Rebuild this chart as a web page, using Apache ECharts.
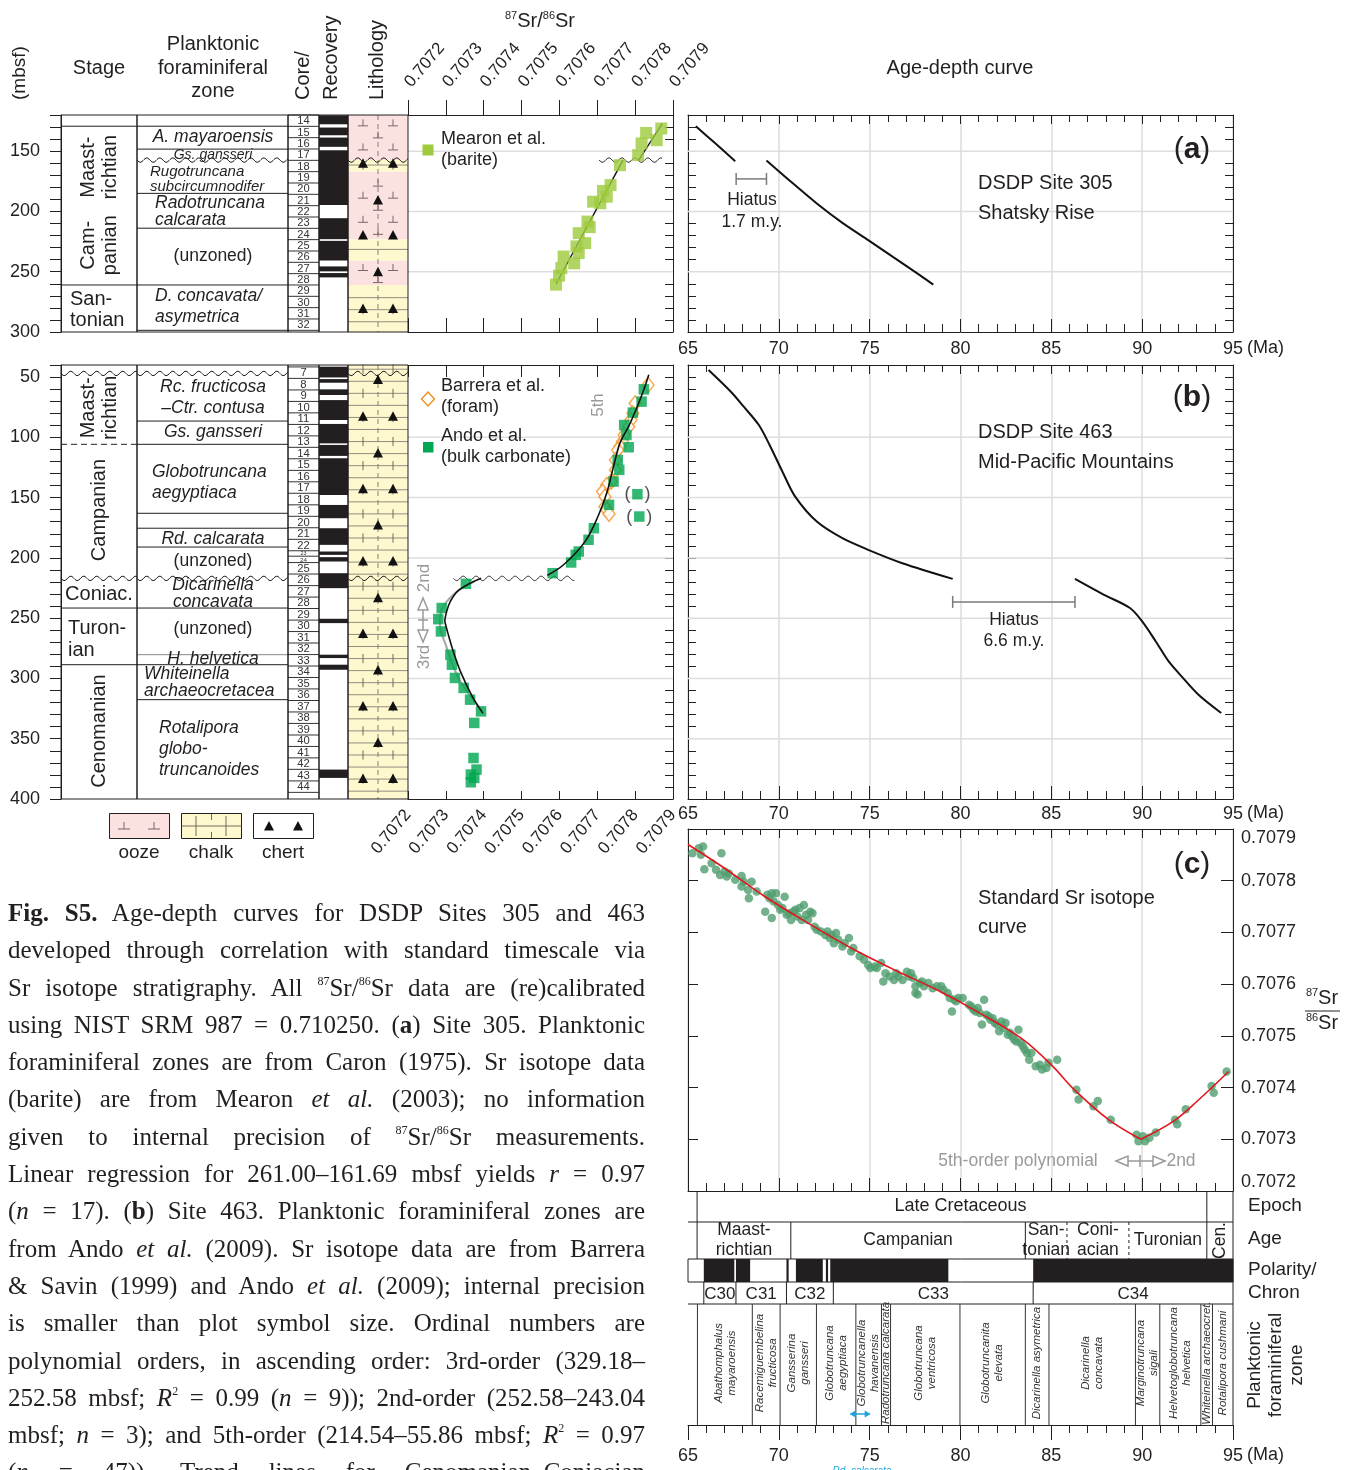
<!DOCTYPE html>
<html>
<head>
<meta charset="utf-8">
<title>Fig. S5 – Age-depth curves for DSDP Sites 305 and 463</title>
<script src="https://cdn.jsdelivr.net/npm/echarts@6/dist/echarts.min.js"></script>
<style>
html,body{margin:0;padding:0;background:#ffffff;width:1351px;height:1470px;overflow:hidden;}
#chart{position:absolute;left:0;top:0;width:1351px;height:1470px;}
#cap{position:absolute;left:8px;top:894px;width:637px;font-family:"Liberation Serif","DejaVu Serif","Times New Roman",serif;font-size:25px;line-height:37.3px;color:#231f20;}
#cap .l{display:block;text-align:justify;text-align-last:justify;height:37.3px;}
#cap sup{font-size:12px;line-height:0;vertical-align:11px;}
</style>
</head>
<body>
<div id="chart"></div>
<div id="cap">
<div class="l"><b>Fig. S5.</b> Age-depth curves for DSDP Sites 305 and 463</div>
<div class="l">developed through correlation with standard timescale via</div>
<div class="l">Sr isotope stratigraphy. All <sup>87</sup>Sr/<sup>86</sup>Sr data are (re)calibrated</div>
<div class="l">using NIST SRM 987 = 0.710250. (<b>a</b>) Site 305. Planktonic</div>
<div class="l">foraminiferal zones are from Caron (1975). Sr isotope data</div>
<div class="l">(barite) are from Mearon <i>et al.</i> (2003); no information</div>
<div class="l">given to internal precision of <sup>87</sup>Sr/<sup>86</sup>Sr measurements.</div>
<div class="l">Linear regression for 261.00–161.69 mbsf yields <i>r</i> = 0.97</div>
<div class="l">(<i>n</i> = 17). (<b>b</b>) Site 463. Planktonic foraminiferal zones are</div>
<div class="l">from Ando <i>et al.</i> (2009). Sr isotope data are from Barrera</div>
<div class="l">&amp; Savin (1999) and Ando <i>et al.</i> (2009); internal precision</div>
<div class="l">is smaller than plot symbol size. Ordinal numbers are</div>
<div class="l">polynomial orders, in ascending order: 3rd-order (329.18–</div>
<div class="l">252.58 mbsf; <i>R</i><sup>2</sup> = 0.99 (<i>n</i> = 9)); 2nd-order (252.58–243.04</div>
<div class="l">mbsf; <i>n</i> = 3); and 5th-order (214.54–55.86 mbsf; <i>R</i><sup>2</sup> = 0.97</div>
<div class="l">(<i>n</i> = 47)). Trend lines for Cenomanian–Coniacian</div>
</div>
<script>
// ======================= DATA =======================
// ---- (a) DSDP Site 305 ----
const aCoreNum = [14,15,16,17,18,19,20,21,22,23,24,25,26,27,28,29,30,31,32];
const aCoreTop = [120,129.4,138.8,148.2,157.6,167,176.4,185.8,195.2,204.6,214,223.4,232.8,242.2,251.6,261,270.4,279.8,289.2];
const aCoreBottom = 298.6;
const aRecTop = [120.2,130.4,138.7,149.2,205.6,224.4,245.6,251.1];
const aRecBot = [127.7,136.8,146.4,194.6,223.0,240.7,249.7,254.7];
const aStageNames = ['Maast-\nrichtian','Cam-\npanian','San-\ntonian'];
const aStageBounds = [129.3,261];
const aZoneNames = ['A. mayaroensis','Gs. gansseri','Rugotruncana\nsubcircumnodifer','Radotruncana\ncalcarata','(unzoned)','D. concavata/\nasymetrica'];
const aZoneBounds = [129.3,148.3,185,213.9,261,298.6];
const aHiatusDepth = 157.4;
const aLithType = ['ooze','chalk','ooze','chalk','ooze','chalk'];
const aLithTop = [120,157.4,167,223,241,261];
const aLithBot = [157.4,167,223,241,261,300];
const aChertDepth = [160,190.5,219.6,250,280.5];
const aChertCount = [2,1,2,1,2];
const aSr = [0.707591,0.707599,0.707605,0.707611,0.707639,0.707645,0.707651,0.707651,0.707668,0.707674,0.70768,0.707689,0.707708,0.707715,0.707725,0.707735,0.70776,0.707808,0.707817,0.707829,0.707857,0.707869];
const aSrDepth = [260.7,253.3,247,237.4,243,229,234.5,218,226.3,208.4,213,191.9,193.2,183,187.8,178.1,161.6,153.3,143.6,134.9,140.9,131.2];
const aFitLowSr = [0.707591,0.707768];
const aFitLowDepth = [260.2,157.4];
const aFitUpSr = [0.707808,0.707872];
const aFitUpDepth = [158,127];
const aAge1 = [65.43,66.5,67.6];
const aAgeDepth1 = [129.3,143.5,158.3];
const aAge2 = [69.32,70.67,72.09,73.5,74.92,76.34,77.76,78.5];
const aAgeDepth2 = [157.7,175.4,193.4,209.5,223.8,238.3,252.8,260.7];
const aHiatusAge = [67.65,69.32];
const aHiatusBarDepth = 173;

// ---- (b) DSDP Site 463 ----
const bCoreNum = [7,8,9,10,11,12,13,14,15,16,17,18,19,20,21,22,23,24,25,26,27,28,29,30,31,32,33,34,35,36,37,38,39,40,41,42,43,44];
const bCoreTop = [41.6,51.1,60.7,70.2,79.7,89.3,98.8,108.3,117.8,127.4,136.9,146.4,156,165.5,175,184.6,194.1,198.6,203.9,213.4,223,232.5,242,251.6,261.1,270.6,280.2,289.7,299.2,308.7,318.3,327.8,337.3,346.9,356.4,365.9,375.4,385];
const bCoreBottom = 394.5;
const bRecTop = [41.4,51.7,60.2,69.1,88.9,106.3,117.4,156.1,175.4,194.7,199.4,212.7,250.5,280.3,288.6,375.6];
const bRecBot = [50.3,54.7,64.9,85.6,105,115.4,147.8,167.1,189.2,197.5,203,225.1,254.1,283.1,292.8,382.5];
const bStageNames = ['Maast-\nrichtian','Campanian','Coniac.','Turon-\nian','Cenomanian'];
const bStageBounds = [105.8,217,241.6,288.6];
const bZoneNames = ['Rc. fructicosa\n–Ctr. contusa','Gs. gansseri','Globotruncana\naegyptiaca','Rd. calcarata','(unzoned)','Dicarinella\nconcavata','(unzoned)','H. helvetica','Whiteinella\narchaeocretacea','Rotalipora\nglobo-\ntruncanoides'];
const bZoneBounds = [86.5,105.8,163,175.4,191,217,241.6,280.3,288.6,317.6];
const bHiatusDepths = [47,217];
const bLithType = ['chalk'];
const bLithTop = [40];
const bLithBot = [400];
const bChertDepth = [52,82.5,113,142.7,172.8,202.6,233,262.8,292.9,322.8,353.2,383];
const bChertCount = [1,2,1,2,1,2,1,2,1,2,1,2];
const barreraSr = [0.707834,0.7078,0.707794,0.707789,0.707783,0.707771,0.707766,0.70776,0.707754,0.707748,0.707748,0.707737,0.707725,0.707714,0.70772,0.70772,0.707725,0.707731];
const barreraDepth = [56.6,71.8,80.1,85.6,91.2,98.1,103.6,107.7,110.5,118.8,127,136.7,139.5,145,149.2,157.5,160.2,163.5];
const andoSr = [0.707823,0.707817,0.707794,0.707771,0.707777,0.707783,0.707754,0.707758,0.707743,0.707731,0.707691,0.707677,0.707651,0.707643,0.707631,0.707582,0.707353,0.707289,0.70728,0.707287,0.707312,0.707316,0.707324,0.707347,0.707364,0.707393,0.707375,0.707373,0.707381,0.707366,0.707375,0.707366];
const andoDepth = [60.2,70.4,79.5,89.8,98.1,108.2,118.8,127,136.7,156,175.4,185,194.7,197.5,203.8,212.7,221.5,241.6,250.8,261,280.3,288.6,299.6,307.9,317.6,327.3,336.9,366,375.6,379.7,382.5,386.1];
const andoQuerySr = [0.707806,0.707811];
const andoQueryDepth = [147.2,165.7];
const fit5Sr = [0.707568,0.707611,0.707668,0.707702,0.707725,0.707743,0.70776,0.707783,0.707806,0.707823,0.707836];
const fit5Depth = [214.5,205.7,186.3,165.5,146.1,124,104.6,90.8,74.2,60.4,48];
const fit2Sr = [0.707393,0.707335,0.707312,0.707301,0.707297];
const fit2Depth = [216.8,226.5,236.1,245.8,252.6];
const fit3Sr = [0.707297,0.707305,0.707318,0.707341,0.70737,0.707398];
const fit3Depth = [252.6,262,276,296,315,329];
const altFitSr = [0.707375,0.707324,0.707289,0.707284,0.707301,0.70733,0.707364,0.707396];
const altFitDepth = [219.6,229.3,243,254,273.3,297.6,314.2,326.6];
const bAge1 = [66.13,67.36,68.07,68.9,69.49,70.2,70.9,72.09,73.5,74.92,76.8,79.57];
const bAgeDepth1 = [44.2,62.2,74.6,89.8,106.3,128.5,149.2,169.9,183.7,193.3,204.4,217.4];
const bAge2 = [86.3,87.9,89.33,90.0,90.75,91.46,92.17,93.1,94.35];
const bAgeDepth2 = [217.4,230.6,241.6,252.7,269.3,285.9,298.3,313.5,328.6];
const bHiatusAge = [79.57,86.3];
const bHiatusBarDepth = 236.5;

// ---- (c) Standard Sr isotope curve ----
const cAge = [65.24,65.59,65.83,65.71,65.9,66.3,66.54,66.77,66.84,67.01,67.13,67.24,67.6,67.95,67.95,68.07,68.31,68.35,68.5,68.78,69.25,69.37,69.49,69.61,69.61,69.72,69.84,69.96,70.08,70.2,70.32,70.43,70.55,70.67,70.79,70.91,71.02,71.14,71.26,71.38,71.5,71.61,71.73,71.85,71.97,72.09,72.32,72.56,72.68,72.8,72.91,73.03,73.15,73.27,73.5,73.62,73.86,73.98,74.1,74.45,74.69,74.92,75.04,75.28,75.39,75.63,75.75,75.87,76.1,76.34,76.46,76.58,76.81,77.05,77.17,77.28,77.4,77.52,77.64,77.52,77.76,77.88,77.99,78.23,78.47,78.7,78.94,79.06,79.29,79.41,79.53,79.65,79.76,79.88,80.12,80.47,80.59,80.71,80.83,80.95,81.06,81.18,81.3,81.42,81.54,81.65,81.77,81.89,82.01,82.13,82.25,82.36,82.48,82.6,82.72,82.84,82.95,83.07,83.19,83.31,83.43,83.54,83.66,83.78,83.9,84.14,84.37,84.49,84.73,84.84,85.32,86.38,86.5,87.32,87.56,88.27,89.69,89.8,90.04,90.16,90.4,90.75,91.81,91.93,92.4,93.82,93.94,94.65];
const cSr = [0.707853,0.707863,0.707866,0.70785,0.707822,0.707834,0.707821,0.707811,0.707853,0.707818,0.707808,0.707814,0.707802,0.707809,0.707789,0.707798,0.707782,0.707766,0.707798,0.707779,0.70774,0.707773,0.707766,0.707728,0.707776,0.70776,0.707776,0.707753,0.707744,0.707747,0.707769,0.707734,0.707737,0.707724,0.70774,0.707744,0.707731,0.707747,0.707724,0.707753,0.707734,0.707724,0.70774,0.707737,0.707711,0.707705,0.707702,0.707695,0.707702,0.707689,0.707695,0.707679,0.707699,0.707686,0.707673,0.707679,0.707689,0.707663,0.70767,0.707654,0.707647,0.707637,0.707631,0.707634,0.707631,0.707641,0.707605,0.707621,0.707615,0.707608,0.707621,0.707615,0.707608,0.707624,0.707615,0.707621,0.707612,0.707596,0.70758,0.707583,0.707602,0.707605,0.707596,0.707602,0.707592,0.707596,0.707596,0.707589,0.707583,0.707573,0.707547,0.70757,0.707567,0.707573,0.707573,0.70756,0.707557,0.707551,0.707547,0.707554,0.707544,0.707522,0.70757,0.707541,0.707538,0.707531,0.707534,0.707525,0.707522,0.707509,0.707528,0.707515,0.707525,0.707502,0.707506,0.707499,0.707493,0.707489,0.707512,0.707486,0.70748,0.707473,0.707467,0.707454,0.707467,0.707441,0.707444,0.707435,0.707438,0.707448,0.707454,0.707396,0.707377,0.707364,0.707374,0.707338,0.707309,0.707296,0.707306,0.707296,0.707303,0.707313,0.707338,0.707329,0.707358,0.707403,0.70739,0.707431];
const cCurve5Age = [65,66.89,69.25,71.61,73.98,76.34,78.7,81.06,83.43,85.08,86.26,88.15,89.92];
const cCurve5Sr = [0.70787,0.707827,0.707769,0.707718,0.70767,0.707628,0.707589,0.707544,0.707493,0.707441,0.707396,0.707338,0.7073];
const cCurve2Age = [89.92,91.69,93.1,94.76];
const cCurve2Sr = [0.7073,0.707334,0.707376,0.707431];

// ---- Timescale ----
const tsEpochNames = ['Late Cretaceous',''];
const tsEpochStart = [65.5,93.56];
const tsEpochEnd = [93.56,95];
const tsAgeNames = ['Maast-\nrichtian','Campanian','San-\ntonian','Coni-\nacian','Turonian','Cen.'];
const tsAgeStart = [65.5,70.66,83.57,85.86,89.27,93.56];
const tsAgeEnd = [70.66,83.57,85.86,89.27,93.56,95];
const tsNormalStart = [65.87,67.64,70.42,70.94,72.59,72.83,84.0];
const tsNormalEnd = [67.55,68.42,70.54,72.42,72.71,79.33,95];
const tsChronNames = ['C30','C31','C32','C33','C34'];
const tsChronStart = [65.87,67.64,70.42,73.0,84.0];
const tsChronEnd = [67.64,70.42,73.0,84.0,95];
const tsZoneNames = ['Abathomphalus\nmayaroensis','Racemiguembelina\nfructicosa','Gansserina\ngansseri','Globotruncana\naegyptiaca','Globotruncanella\nhavanensis','Radotruncana calcarata','Globotruncana\nventricosa','Globotruncanita\nelevata','Dicarinella asymetrica','Dicarinella\nconcavata','Marginotruncana\nsigali','Helvetoglobotruncana\nhelvetica','Whiteinella archaeocret.','Rotalipora cushmani'];
const tsZoneStart = [65.52,68.54,70.07,72.07,74.24,75.65,76.15,79.97,83.57,84.87,89.63,90.97,93.23,93.87];
const tsCalcarataRange = [73.95,75.0];

const aGridDepths = [150,200,250];
const bGridDepths = [100,150,200,250,300,350];

// ======================= STYLE / LAYOUT =======================
const FF = '"Liberation Sans", Arial, Helvetica, sans-serif';
const AX = '#231f20';
const PI2 = Math.PI/2;
const OOZE = '#fbe2e1', CHALK = '#fef8cf';
const GREEN_A = '#9dcb3c', GREEN_B = '#00a651', ORANGE = '#f39325', DOT_C = '#4f9d6e', RED = '#e3161b';
const COL = {st:[0,76], zn:[76,227], co:[227,258], re:[258,287], li:[287,347]};

function fnt(s,it,b){return (it?'italic ':'')+(b?'bold ':'')+s+'px '+FF;}
function mkText(x,y,text,o){
  o=o||{}; const al=o.align||'center', va=o.va||'middle';
  const st={text:String(text),font:fnt(o.size||18,o.it,o.bold),fill:o.fill||'#231f20',align:al,verticalAlign:va,textAlign:al,textVerticalAlign:va};
  if(o.lh){st.lineHeight=o.lh;}
  if(o.rich){st.rich=o.rich;}
  return {type:'text',x:x,y:y,rotation:o.rot||0,silent:true,z:100,style:st};
}
function wavyPts(a,b,amp,wl){const p=[];for(let x=a[0];x<=b[0]+0.01;x+=1){p.push([x,a[1]+amp*Math.sin((x-a[0])/wl*2*Math.PI)]);}return p;}

// ---- stratigraphic column renderer ----
function colSeries(xi,yi,S){
  return {type:'custom',xAxisIndex:xi,yAxisIndex:yi,silent:true,animation:false,clip:false,z:2,
    data:[[0,S.dTop]],
    renderItem:function(params,api){
      const P=(x,d)=>api.coord([x,d]);
      const ch=[];
      const Lp=(x1,y1,x2,y2,st)=>ch.push({type:'line',shape:{x1:x1,y1:y1,x2:x2,y2:y2},style:Object.assign({stroke:AX,lineWidth:1,fill:'none'},st||{})});
      const L=(xa,da,xb,db,st)=>{const a=P(xa,da),b=P(xb,db);Lp(a[0],a[1],b[0],b[1],st);};
      const R=(xa,da,xb,db,st)=>{const a=P(xa,da),b=P(xb,db);ch.push({type:'rect',shape:{x:Math.min(a[0],b[0]),y:Math.min(a[1],b[1]),width:Math.abs(b[0]-a[0]),height:Math.abs(b[1]-a[1])},style:st});};
      const ppm=Math.abs(P(0,S.dTop+10)[1]-P(0,S.dTop)[1])/10;
      const li=COL.li, lw=li[1]-li[0], q1=li[0]+lw*0.25, q3=li[0]+lw*0.75, xm=li[0]+lw*0.5;
      S.lithTop.forEach((t,i)=>R(li[0],t,li[1],S.lithBot[i],{fill:S.lithType[i]==='ooze'?OOZE:CHALK}));
      L(xm,S.dTop,xm,S.dBot,{stroke:'#6b6060',lineWidth:0.8,lineDash:[5,4]});
      S.lithTop.forEach((t,i)=>{
        const b=S.lithBot[i];
        const k0=Math.floor((t-S.rowOff)/S.rowStep);
        for(let k=k0;k<k0+100;k++){
          const d=S.rowOff+k*S.rowStep; if(d>=b) break;
          const even=((k%2)+2)%2===0;
          if(S.lithType[i]==='chalk'){
            if(d>t+0.8){
              L(li[0],d,li[1],d,{stroke:'#77726a',lineWidth:0.8});
              if(even){const h=S.rowStep*0.38; L(q1,d-h,q1,d+h,{stroke:'#5f5a52',lineWidth:0.9}); L(q3,d-h,q3,d+h,{stroke:'#5f5a52',lineWidth:0.9});}
            }
          } else {
            const dc=d+S.rowStep/2; if(dc<=t+2||dc>=b-2) continue;
            const xs=even?[q1,q3]:[xm];
            xs.forEach(x=>{const c=P(x,dc); const col='#7b6767';
              Lp(c[0],c[1]-3.5,c[0],c[1]+3,{stroke:col,lineWidth:1});
              Lp(c[0]-5,c[1]+3,c[0]+5,c[1]+3,{stroke:col,lineWidth:1});});
          }
        }
      });
      S.chertD.forEach((d,i)=>{const xs=S.chertN[i]===1?[xm]:[q1,q3];xs.forEach(x=>{const c=P(x,d);ch.push({type:'polygon',shape:{points:[[c[0]-5,c[1]+4.5],[c[0]+5,c[1]+4.5],[c[0],c[1]-5]]},style:{fill:'#111'}});});});
      S.recTop.forEach((t,i)=>R(COL.re[0],t,COL.re[1],S.recBot[i],{fill:'#231f20'}));
      S.coreTop.forEach((t,i)=>{
        const b=(i<S.coreTop.length-1)?S.coreTop[i+1]:S.coreBot;
        L(COL.co[0],t,COL.co[1],t,{stroke:'#333'});
        const hp=(b-t)*ppm; const c=P((COL.co[0]+COL.co[1])/2,(t+b)/2);
        ch.push(mkText(c[0],c[1]+0.5,S.coreNum[i],{size:Math.min(13.5,hp*0.98),fill:'#333'}));
      });
      L(COL.co[0],S.coreBot,COL.co[1],S.coreBot,{stroke:'#333'});
      S.stageLines.forEach(s=>L(COL.st[0],s[0],COL.st[1],s[0],s[1]?{lineDash:[6,4]}:{}));
      S.zoneLines.forEach(s=>L(COL.zn[0],s[0],COL.zn[1],s[0],s[1]?{stroke:s[1]}:{}));
      [COL.st,COL.zn,COL.co,COL.re,COL.li].forEach(c=>R(c[0],S.dTop,c[1],S.dBot,{fill:'none',stroke:AX,lineWidth:1}));
      S.wavy.forEach(d=>S.wavyCols.forEach(c=>{const a=P(c[0],d),b=P(c[1],d);ch.push({type:'polyline',shape:{points:wavyPts(a,b,2.2,13)},style:{stroke:AX,lineWidth:1,fill:'none'}});}));
      S.texts.forEach(t=>{const c=P(t[0],t[1]);ch.push(mkText(c[0],c[1],t[2],t[3]));});
      return {type:'group',children:ch};
    }};
}

const aSpec = {dTop:120,dBot:300,lithTop:aLithTop,lithBot:aLithBot,lithType:aLithType,rowStep:10,rowOff:1.5,
  chertD:aChertDepth,chertN:aChertCount,recTop:aRecTop,recBot:aRecBot,coreNum:aCoreNum,coreTop:aCoreTop,coreBot:aCoreBottom,
  stageLines:aStageBounds.map(d=>[d]),zoneLines:aZoneBounds.map(d=>[d]),
  wavy:[aHiatusDepth],wavyCols:[COL.zn,COL.li],
  texts:[
    [38,163.3,aStageNames[0],{rot:PI2,size:20,lh:22}],
    [38,228,aStageNames[1],{rot:PI2,size:20,lh:22}],
    [9,282,aStageNames[2],{size:20,lh:21,align:'left'}],
    [152,138.4,aZoneNames[0],{size:17.5,it:true}],
    [152,153.4,aZoneNames[1],{size:14,it:true}],
    [89,173.5,aZoneNames[2],{size:15,it:true,lh:14.5,align:'left'}],
    [94,200.3,aZoneNames[3],{size:17.5,it:true,lh:17,align:'left'}],
    [152,237,aZoneNames[4],{size:17.5}],
    [94,279,aZoneNames[5],{size:17.5,it:true,lh:21,align:'left'}]
  ]};
const bSpec = {dTop:40,dBot:400,lithTop:bLithTop,lithBot:bLithBot,lithType:bLithType,rowStep:10,rowOff:3.5,
  chertD:bChertDepth,chertN:bChertCount,recTop:bRecTop,recBot:bRecBot,coreNum:bCoreNum,coreTop:bCoreTop,coreBot:bCoreBottom,
  stageLines:[[bStageBounds[0],true],[bStageBounds[2]],[bStageBounds[3]]],
  zoneLines:bZoneBounds.filter(d=>bHiatusDepths.indexOf(d)<0).map(d=>d===280.3?[d,'#888']:[d]),
  wavy:bHiatusDepths,wavyCols:[COL.st,COL.zn,COL.li],
  texts:[
    [38,75.5,bStageNames[0],{rot:PI2,size:20,lh:22}],
    [38,160.3,bStageNames[1],{rot:PI2,size:20}],
    [38,230.5,bStageNames[2],{size:20}],
    [7,268,bStageNames[3],{size:20,lh:22,align:'left'}],
    [38,343.6,bStageNames[4],{rot:PI2,size:20}],
    [152,67.4,bZoneNames[0],{size:17.5,it:true,lh:21}],
    [152,95.6,bZoneNames[1],{size:17.5,it:true}],
    [91,137.9,bZoneNames[2],{size:17.5,it:true,lh:21,align:'left'}],
    [152,184.2,bZoneNames[3],{size:17.5,it:true}],
    [152,202.6,bZoneNames[4],{size:17.5}],
    [152,229.5,bZoneNames[5],{size:17.5,it:true,lh:16.5}],
    [152,259,bZoneNames[6],{size:17.5}],
    [152,283.9,bZoneNames[7],{size:17.5,it:true}],
    [83,303.8,bZoneNames[8],{size:17.5,it:true,lh:17,align:'left'}],
    [98,358.6,bZoneNames[9],{size:17.5,it:true,lh:21,align:'left'}]
  ]};

function decorSeries(xi,yi,xr,depths,wavy){
  return {type:'custom',xAxisIndex:xi,yAxisIndex:yi,silent:true,animation:false,clip:false,z:1,
    data:[[xr[0],depths[0]]],
    renderItem:function(params,api){
      const ch=[];
      depths.forEach(d=>{const a=api.coord([xr[0],d]),b=api.coord([xr[1],d]);ch.push({type:'line',shape:{x1:a[0],y1:a[1],x2:b[0],y2:b[1]},style:{stroke:'#dddddd',lineWidth:1.5,fill:'none'}});});
      if(wavy){const a=api.coord([wavy[0],wavy[2]]),b=api.coord([wavy[1],wavy[2]]);ch.push({type:'polyline',shape:{points:wavyPts(a,b,2.2,13)},style:{stroke:AX,lineWidth:1,fill:'none'}});}
      return {type:'group',children:ch};
    }};
}
function hiatusSeries(xi,yi,ages,d){
  return {type:'custom',xAxisIndex:xi,yAxisIndex:yi,silent:true,animation:false,clip:false,z:3,
    data:[[ages[0],d,ages[1]]],
    renderItem:function(params,api){
      const s=api.coord([api.value(0),api.value(1)]), e=api.coord([api.value(2),api.value(1)]);
      const st={stroke:'#7a7a7a',lineWidth:1.5,fill:'none'};
      return {type:'group',children:[
        {type:'line',shape:{x1:s[0],y1:s[1],x2:e[0],y2:e[1]},style:st},
        {type:'line',shape:{x1:s[0],y1:s[1]-6,x2:s[0],y2:s[1]+6},style:st},
        {type:'line',shape:{x1:e[0],y1:e[1]-6,x2:e[0],y2:e[1]+6},style:st}]};
    }};
}
function tsSeries(){
  return {type:'custom',xAxisIndex:12,yAxisIndex:10,silent:true,animation:false,clip:false,z:3,
    data:[[65,0]],
    renderItem:function(params,api){
      const P=(m,u)=>api.coord([m,u]); const ch=[];
      const L=(a,b,st)=>ch.push({type:'line',shape:{x1:a[0],y1:a[1],x2:b[0],y2:b[1]},style:Object.assign({stroke:AX,lineWidth:1,fill:'none'},st||{})});
      const R=(a,b,st)=>ch.push({type:'rect',shape:{x:a[0],y:a[1],width:b[0]-a[0],height:b[1]-a[1]},style:st});
      const EP=[0,31],AG=[31,68],PO=[68,91],CR=[91,113],ZN=[113,234];
      [EP[1],CR[1]].forEach(u=>L(P(65,u),P(95,u)));
      L(P(95,0),P(95,ZN[1]));
      tsEpochStart.forEach((s,i)=>{L(P(s,EP[0]),P(s,EP[1]));if(tsEpochNames[i]){const c=P((65+95)/2,(EP[0]+EP[1])/2);ch.push(mkText(c[0],c[1],tsEpochNames[i],{size:18}));}});
      tsAgeStart.forEach((s,i)=>{const dashed=(i===3||i===4);L(P(s,AG[0]),P(s,AG[1]),dashed?{lineDash:[3,3]}:{});
        const c=P((s+tsAgeEnd[i])/2,(AG[0]+AG[1])/2);
        ch.push(mkText(c[0],c[1],tsAgeNames[i],tsAgeNames[i]==='Cen.'?{rot:PI2,size:17.5}:{size:17.5,lh:20}));});
      R(P(65,PO[0]),P(95,PO[1]),{fill:'#fff',stroke:AX,lineWidth:1});
      tsNormalStart.forEach((s,i)=>R(P(s,PO[0]),P(tsNormalEnd[i],PO[1]),{fill:'#231f20'}));
      tsChronStart.forEach((s,i)=>{L(P(s,CR[0]),P(s,CR[1]));const c=P((s+tsChronEnd[i])/2,(CR[0]+CR[1])/2);ch.push(mkText(c[0],c[1]+1,tsChronNames[i],{size:17}));});
      tsZoneStart.forEach((s,i)=>{L(P(s,ZN[0]),P(s,ZN[1]),{stroke:'#333'});
        const e=(i<tsZoneStart.length-1)?tsZoneStart[i+1]:95; const c=P((s+e)/2,172);
        ch.push(mkText(c[0],c[1],tsZoneNames[i],{rot:PI2,size:11.5,it:true,lh:13,fill:'#333'}));});
      const a=P(tsCalcarataRange[0],223), b=P(tsCalcarataRange[1],223), bl='#1fa3dd';
      L(a,b,{stroke:bl,lineWidth:1.5});
      ch.push({type:'polygon',shape:{points:[[a[0]-1,a[1]],[a[0]+5,a[1]-3.5],[a[0]+5,a[1]+3.5]]},style:{fill:bl}});
      ch.push({type:'polygon',shape:{points:[[b[0]+1,b[1]],[b[0]-5,b[1]-3.5],[b[0]-5,b[1]+3.5]]},style:{fill:bl}});
      return {type:'group',children:ch};
    }};
}

// ---- axes ----
function xSr(g,pos,inside,len,lab,margin,rot){
  return {type:'value',gridIndex:g,position:pos,min:0.7072,max:0.7079,interval:0.0001,
    axisLine:{show:true,onZero:false,lineStyle:{color:AX,width:1}},
    axisTick:{show:true,inside:inside,length:len,lineStyle:{color:AX,width:1}},
    axisLabel:{show:lab,rotate:rot,margin:margin,formatter:v=>v.toFixed(4),fontSize:17,fontFamily:FF,color:'#231f20',showMinLabel:true,showMaxLabel:true},
    splitLine:{show:false}};
}
function xAge(g,pos,inside,len,mlen,lab,split,margin){
  return {type:'value',gridIndex:g,position:pos,min:65,max:95,interval:5,
    axisLine:{show:true,onZero:false,lineStyle:{color:AX,width:1}},
    axisTick:{show:true,inside:inside,length:len,lineStyle:{color:AX,width:1}},
    minorTick:{show:true,splitNumber:5,length:mlen,lineStyle:{color:AX,width:1}},
    axisLabel:{show:lab,margin:margin||7,fontSize:18,fontFamily:FF,color:'#231f20',showMinLabel:true,showMaxLabel:true},
    splitLine:{show:split,lineStyle:{color:'#dddddd',width:1.5}}};
}
function yDepth(g,pos,min,max,inside,len,lab){
  return {type:'value',gridIndex:g,position:pos,inverse:true,min:min,max:max,interval:10,
    axisLine:{show:true,onZero:false,lineStyle:{color:AX,width:1}},
    axisTick:{show:true,inside:inside,length:len,lineStyle:{color:AX,width:1}},
    axisLabel:{show:lab,margin:21,fontSize:18,fontFamily:FF,color:'#231f20',formatter:v=>(Math.round(v)%50===0?String(Math.round(v)):''),showMinLabel:true,showMaxLabel:true},
    splitLine:{show:false}};
}
function ySrC(g,pos,len,lab){
  return {type:'value',gridIndex:g,position:pos,min:0.7072,max:0.7079,interval:0.0001,
    axisLine:{show:true,onZero:false,lineStyle:{color:AX,width:1}},
    axisTick:{show:true,inside:true,length:len,lineStyle:{color:AX,width:1}},
    axisLabel:{show:lab,margin:8,fontSize:18,fontFamily:FF,color:'#231f20',formatter:v=>v.toFixed(4),showMinLabel:true,showMaxLabel:true,verticalAlignMinLabel:'bottom',verticalAlignMaxLabel:'top'},
    splitLine:{show:false}};
}

const grids = [
  {left:61,top:115,width:347,height:217},
  {left:408,top:115,width:265,height:217},
  {left:688,top:115,width:545,height:217},
  {left:61,top:365,width:347,height:434},
  {left:408,top:365,width:265,height:434},
  {left:688,top:365,width:545,height:434},
  {left:688,top:829,width:545,height:362},
  {left:688,top:1191,width:545,height:234}
].map(g=>Object.assign({show:false,containLabel:false,outerBoundsMode:'none'},g));

const xAxes = [
  {type:'value',gridIndex:0,min:0,max:347,show:false},
  xSr(1,'top',false,15,true,30,-50),
  xSr(1,'bottom',true,14,false,0,0),
  xAge(2,'bottom',true,13,8,true,true,8),
  xAge(2,'top',true,9,7,false,false),
  {type:'value',gridIndex:3,min:0,max:347,show:false},
  xSr(4,'top',true,12,false,0,0),
  xSr(4,'bottom',true,8,true,13,50),
  xAge(5,'bottom',true,13,8,true,true,6),
  xAge(5,'top',true,9,7,false,false),
  xAge(6,'top',true,9,6,false,true),
  xAge(6,'bottom',true,13,8,false,false),
  xAge(7,'bottom',false,15,8,true,false,22)
];
const yAxes = [
  yDepth(0,'left',120,300,false,11,true),
  yDepth(1,'right',120,300,true,8,false),
  yDepth(2,'left',120,300,true,8,false),
  yDepth(2,'right',120,300,true,8,false),
  yDepth(3,'left',40,400,false,11,true),
  yDepth(4,'right',40,400,true,8,false),
  yDepth(5,'left',40,400,true,8,false),
  yDepth(5,'right',40,400,true,8,false),
  ySrC(6,'right',12,true),
  ySrC(6,'left',10,false),
  {type:'value',gridIndex:7,min:0,max:234,inverse:true,show:false}
];

const pairs=(xs,ys)=>xs.map((v,i)=>[v,ys[i]]);
function lineS(xi,yi,xs,ys,color,width,smooth,z){
  return {type:'line',xAxisIndex:xi,yAxisIndex:yi,data:pairs(xs,ys),smooth:smooth||false,symbol:'none',showSymbol:false,silent:true,animation:false,z:z||3,
    lineStyle:{color:color,width:width}};
}

const series = [
  colSeries(0,0,aSpec),
  colSeries(5,4,bSpec),
  // (a) Sr
  decorSeries(1,1,[0.7072,0.7079],aGridDepths,[0.707705,0.707872,aHiatusDepth]),
  lineS(1,1,aFitLowSr,aFitLowDepth,'#111',1.4,false),
  lineS(1,1,aFitUpSr,aFitUpDepth,'#111',1.4,false),
  {type:'scatter',xAxisIndex:1,yAxisIndex:1,data:pairs(aSr,aSrDepth),symbol:'rect',symbolSize:12,itemStyle:{color:GREEN_A},silent:true,animation:false,z:4},
  // (a) age-depth
  decorSeries(3,2,[65,95],aGridDepths,null),
  lineS(3,2,aAge1,aAgeDepth1,'#111',2,0.3),
  lineS(3,2,aAge2,aAgeDepth2,'#111',2,0.3),
  hiatusSeries(3,2,aHiatusAge,aHiatusBarDepth),
  // (b) Sr
  decorSeries(7,5,[0.7072,0.7079],bGridDepths,[0.70732,0.70764,bHiatusDepths[1]]),
  lineS(7,5,altFitSr,altFitDepth,'#a9a9a9',2.2,0.4,3),
  lineS(7,5,fit5Sr,fit5Depth,'#111',1.6,0.35,5),
  lineS(7,5,fit2Sr,fit2Depth,'#111',1.6,0.4,5),
  lineS(7,5,fit3Sr,fit3Depth,'#111',1.6,0.4,5),
  {type:'scatter',xAxisIndex:7,yAxisIndex:5,data:pairs(barreraSr,barreraDepth),symbol:'diamond',symbolSize:[12,15],itemStyle:{color:'#ffffff',borderColor:ORANGE,borderWidth:1.5},silent:true,animation:false,z:4},
  {type:'scatter',xAxisIndex:7,yAxisIndex:5,data:pairs(andoSr,andoDepth),symbol:'rect',symbolSize:10.5,itemStyle:{color:GREEN_B},silent:true,animation:false,z:4},
  {type:'scatter',xAxisIndex:7,yAxisIndex:5,data:pairs(andoQuerySr,andoQueryDepth),symbol:'rect',symbolSize:10.5,itemStyle:{color:GREEN_B},silent:true,animation:false,z:4,
    label:{show:true,position:'inside',formatter:'(\u2002 )',fontSize:18,fontFamily:FF,color:'#231f20'}},
  // (b) age-depth
  decorSeries(8,6,[65,95],bGridDepths,null),
  lineS(8,6,bAge1,bAgeDepth1,'#111',2,0.3),
  lineS(8,6,bAge2,bAgeDepth2,'#111',2,0.3),
  hiatusSeries(8,6,bHiatusAge,bHiatusBarDepth),
  // (c)
  {type:'scatter',xAxisIndex:11,yAxisIndex:8,data:pairs(cAge,cSr),symbol:'circle',symbolSize:8.5,itemStyle:{color:DOT_C},silent:true,animation:false,z:3},
  lineS(11,8,cCurve5Age,cCurve5Sr,RED,1.6,0.35,5),
  lineS(11,8,cCurve2Age,cCurve2Sr,RED,1.6,0.35,5),
  // timescale
  tsSeries()
];

// ---- annotations ----
const G=[];
const add=e=>{e.z=100;e.silent=true;G.push(e);};
const gray='#9a9a9a';
const supRich=(n)=>({s:{fontSize:Math.round(n*0.55),fontFamily:FF,verticalAlign:'top',lineHeight:n+2,fill:'#231f20'},n:{fontSize:n,fontFamily:FF,lineHeight:n+2,fill:'#231f20'}});
add(mkText(20,100,'(mbsf)',{rot:PI2,align:'left',size:19}));
add(mkText(99,68,'Stage',{size:20}));
add(mkText(213,68,'Planktonic\nforaminiferal\nzone',{size:20,lh:23.5}));
add(mkText(303,100,'Core/',{rot:PI2,align:'left',size:20}));
add(mkText(331,100,'Recovery',{rot:PI2,align:'left',size:20}));
add(mkText(377,100,'Lithology',{rot:PI2,align:'left',size:20}));
add(mkText(540,21,'{s|87}{n|Sr/}{s|86}{n|Sr}',{rich:supRich(20),size:20}));
add(mkText(960,68,'Age-depth curve',{size:20}));
// legends in Sr panels
add({type:'rect',shape:{x:422.5,y:144.5,width:11,height:11},style:{fill:GREEN_A}});
add(mkText(441,139,'Mearon et al.',{align:'left',size:18}));
add(mkText(441,160,'(barite)',{align:'left',size:18}));
add({type:'polygon',shape:{points:[[428,392],[434.5,399],[428,406],[421.5,399]]},style:{fill:'#fff',stroke:ORANGE,lineWidth:1.5}});
add(mkText(441,386,'Barrera et al.',{align:'left',size:18}));
add(mkText(441,407,'(foram)',{align:'left',size:18}));
add({type:'rect',shape:{x:423,y:442,width:10.5,height:10.5},style:{fill:GREEN_B}});
add(mkText(441,436,'Ando et al.',{align:'left',size:18}));
add(mkText(441,457,'(bulk carbonate)',{align:'left',size:18}));
// polynomial order annotations (b)
add(mkText(598,405,'5th',{rot:PI2,size:17,fill:gray}));
add(mkText(424,578,'2nd',{rot:PI2,size:17,fill:gray}));
add(mkText(424,657,'3rd',{rot:PI2,size:17,fill:gray}));
add({type:'line',shape:{x1:423,y1:602,x2:423,y2:638},style:{stroke:gray,lineWidth:1.5}});
add({type:'line',shape:{x1:418,y1:620,x2:428,y2:620},style:{stroke:gray,lineWidth:1.5}});
add({type:'polygon',shape:{points:[[423,598],[418,610],[428,610]]},style:{fill:'#fff',stroke:gray,lineWidth:1.5}});
add({type:'polygon',shape:{points:[[423,642],[418,630],[428,630]]},style:{fill:'#fff',stroke:gray,lineWidth:1.5}});
// age-depth panel texts
const panelRich={p:{fontSize:30,fontFamily:FF,fill:'#231f20'},b:{fontSize:30,fontFamily:FF,fontWeight:'bold',fill:'#231f20'}};
add(mkText(752,200,'Hiatus',{size:17.5}));
add(mkText(752,222,'1.7 m.y.',{size:17.5}));
add(mkText(1192,150,'{p|(}{b|a}{p|)}',{rich:panelRich,size:30}));
add(mkText(978,183,'DSDP Site 305',{align:'left',size:20}));
add(mkText(978,213,'Shatsky Rise',{align:'left',size:20}));
add(mkText(1014,620,'Hiatus',{size:17.5}));
add(mkText(1014,641,'6.6 m.y.',{size:17.5}));
add(mkText(1192,398,'{p|(}{b|b}{p|)}',{rich:panelRich,size:30}));
add(mkText(978,432,'DSDP Site 463',{align:'left',size:20}));
add(mkText(978,462,'Mid-Pacific Mountains',{align:'left',size:20}));
add(mkText(1247,348,'(Ma)',{align:'left',size:18}));
add(mkText(1247,813,'(Ma)',{align:'left',size:18}));
add(mkText(1247,1455,'(Ma)',{align:'left',size:18}));
// (c)
add(mkText(1192,865,'{p|(}{b|c}{p|)}',{rich:panelRich,size:30}));
add(mkText(978,898,'Standard Sr isotope',{align:'left',size:20}));
add(mkText(978,927,'curve',{align:'left',size:20}));
add(mkText(1018,1161,'5th-order polynomial',{size:17.5,fill:gray}));
add(mkText(1181,1161,'2nd',{size:17.5,fill:gray}));
add({type:'line',shape:{x1:1120,y1:1161,x2:1161,y2:1161},style:{stroke:gray,lineWidth:1.5}});
add({type:'line',shape:{x1:1140,y1:1155,x2:1140,y2:1167},style:{stroke:gray,lineWidth:1.5}});
add({type:'polygon',shape:{points:[[1116,1161],[1128,1156],[1128,1166]]},style:{fill:'#fff',stroke:gray,lineWidth:1.5}});
add({type:'polygon',shape:{points:[[1165,1161],[1153,1156],[1153,1166]]},style:{fill:'#fff',stroke:gray,lineWidth:1.5}});
add(mkText(1322,998,'{s|87}{n|Sr}',{rich:supRich(20),size:20}));
add({type:'line',shape:{x1:1305,y1:1011,x2:1340,y2:1011},style:{stroke:'#231f20',lineWidth:1}});
add(mkText(1322,1023,'{s|86}{n|Sr}',{rich:supRich(20),size:20}));
// timescale row titles
add(mkText(1248,1206,'Epoch',{align:'left',size:19}));
add(mkText(1248,1239,'Age',{align:'left',size:19}));
add(mkText(1248,1270,'Polarity/',{align:'left',size:19}));
add(mkText(1248,1293,'Chron',{align:'left',size:19}));
add(mkText(1276,1365,'Planktonic\nforaminiferal\nzone',{rot:PI2,size:19,lh:21}));
add(mkText(862,1466,'Rd. calcarata',{size:10,it:true,fill:'#1fa3dd',va:'top'}));
// lithology legend
add({type:'rect',shape:{x:109.5,y:813.5,width:60,height:25},style:{fill:OOZE,stroke:AX,lineWidth:1}});
[[124,826],[154,826]].forEach(c=>{add({type:'line',shape:{x1:c[0],y1:c[1]-4,x2:c[0],y2:c[1]+3},style:{stroke:'#7b6767',lineWidth:1}});add({type:'line',shape:{x1:c[0]-6,y1:c[1]+3,x2:c[0]+6,y2:c[1]+3},style:{stroke:'#7b6767',lineWidth:1}});});
add({type:'rect',shape:{x:181.5,y:813.5,width:60,height:25},style:{fill:CHALK,stroke:AX,lineWidth:1}});
add({type:'line',shape:{x1:181.5,y1:826,x2:241.5,y2:826},style:{stroke:'#6e6a60',lineWidth:1}});
[196,226].forEach(x=>add({type:'line',shape:{x1:x,y1:816,x2:x,y2:836},style:{stroke:'#6e6a60',lineWidth:1}}));
add({type:'line',shape:{x1:211.5,y1:814,x2:211.5,y2:820},style:{stroke:'#6e6a60',lineWidth:1}});
add({type:'line',shape:{x1:211.5,y1:832,x2:211.5,y2:838},style:{stroke:'#6e6a60',lineWidth:1}});
add({type:'rect',shape:{x:253.5,y:813.5,width:60,height:25},style:{fill:'#fff',stroke:AX,lineWidth:1}});
[[269,826],[298,826]].forEach(c=>add({type:'polygon',shape:{points:[[c[0]-5,c[1]+4.5],[c[0]+5,c[1]+4.5],[c[0],c[1]-5]]},style:{fill:'#111'}}));
add(mkText(139,853,'ooze',{size:19}));
add(mkText(211,853,'chalk',{size:19}));
add(mkText(283,853,'chert',{size:19}));

const chart = echarts.init(document.getElementById('chart'),null,{renderer:'canvas',width:1351,height:1470});
chart.setOption({
  animation:false,
  backgroundColor:'#ffffff',
  grid:grids,
  xAxis:xAxes,
  yAxis:yAxes,
  series:series,
  graphic:{elements:G}
});
</script>
</body>
</html>
